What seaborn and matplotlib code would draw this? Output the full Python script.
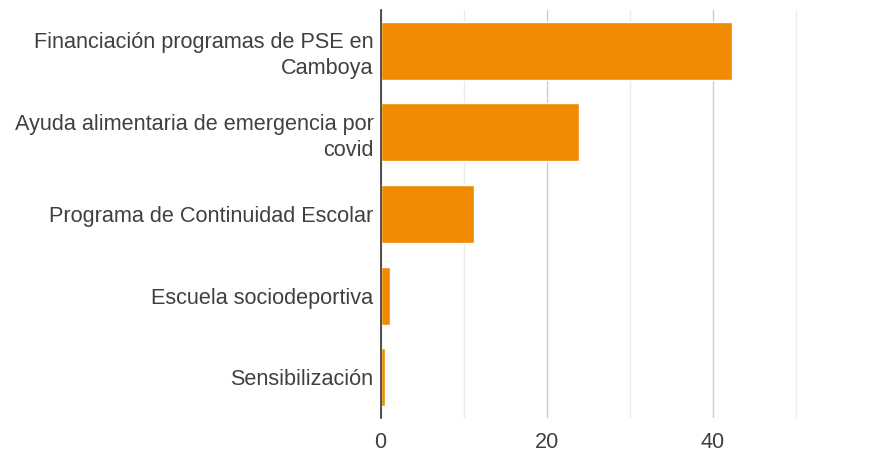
import matplotlib
matplotlib.use("Agg")
import matplotlib.pyplot as plt
import seaborn as sns
import pandas as pd
from matplotlib.ticker import MultipleLocator

# data
programas = [
    "Financiación programas de PSE en\nCamboya",
    "Ayuda alimentaria de emergencia por\ncovid",
    "Programa de Continuidad Escolar",
    "Escuela sociodeportiva",
    "Sensibilización",
]
valores = [42.3, 23.9, 11.2, 1.1, 0.5]

df = pd.DataFrame({"programa": programas, "valor": valores})

sns.set_style("white")
plt.rcParams["font.family"] = ["Liberation Sans", "DejaVu Sans"]

fig = plt.figure(figsize=(8.69, 4.55), dpi=100)
ax = fig.add_axes([0.4379, 0.0813, 0.5621, 0.8967])

sns.barplot(data=df, x="valor", y="programa", orient="h", color="#F08A00",
            saturation=1, width=0.71, ax=ax)

ax.set_xlim(0, 58.8)
ax.xaxis.set_major_locator(MultipleLocator(20))
ax.xaxis.set_minor_locator(MultipleLocator(10))
ax.grid(True, axis="x", which="major", color="#cccccc", linewidth=1)
ax.grid(True, axis="x", which="minor", color="#ebebeb", linewidth=1)
ax.set_axisbelow(True)

for s in ["top", "right", "bottom"]:
    ax.spines[s].set_visible(False)
ax.spines["left"].set_color("#333333")
ax.spines["left"].set_linewidth(1.2)
ax.spines["left"].set_zorder(5)

ax.set_xlabel("")
ax.set_ylabel("")
ax.tick_params(axis="both", which="both", length=0, colors="#404040", labelsize=15.6)
ax.tick_params(axis="y", pad=5)
ax.tick_params(axis="x", pad=10)
for lbl in ax.get_yticklabels():
    lbl.set_linespacing(1.3)

fig.savefig("out.png", dpi=100)
